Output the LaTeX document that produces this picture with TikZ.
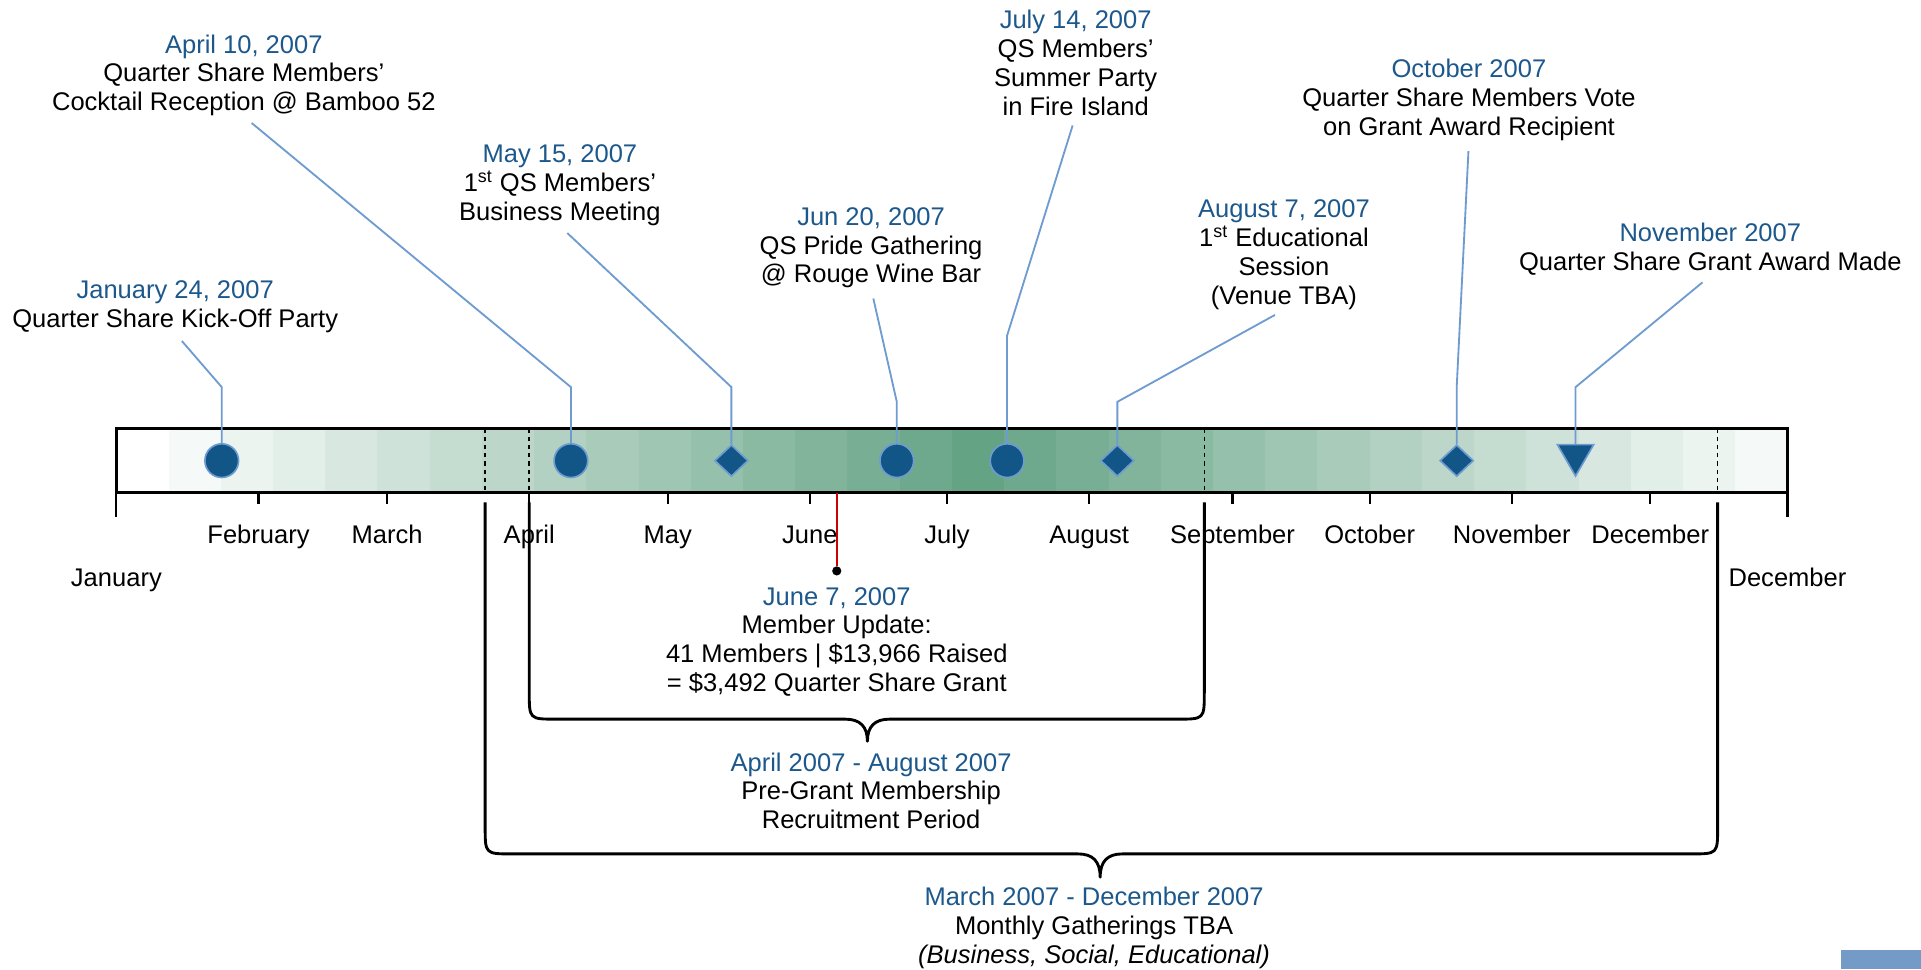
\documentclass[tikz,border=0pt]{standalone}
\usepackage{fontspec}
\setmainfont{Liberation Sans}
\usetikzlibrary{shapes.geometric}
\definecolor{qsblue}{RGB}{28,88,140}
\definecolor{dotblue}{RGB}{18,86,135}
\definecolor{rimblue}{RGB}{110,155,208}
\definecolor{barGreen}{RGB}{101,163,133}
\definecolor{boxblue}{RGB}{116,155,200}
\begin{document}
\begin{tikzpicture}[x=0.6pt,y=-0.6pt]

\useasboundingbox (0,0) rectangle (1568,791);
% width of one shade band
\def\bw{42.625}
% style definitions
\tikzstyle{evcircle} = [circle, draw=rimblue, fill=dotblue, line width=0.8pt,
	minimum size=16.5pt, inner sep=0pt];
\tikzstyle{evdiamond} = [diamond, draw=rimblue, fill=dotblue, line width=0.8pt,
	minimum width=16.5pt, minimum height=15.5pt, inner sep=0pt];
\tikzstyle{evtriangle} = [regular polygon, regular polygon sides=3,
	shape border rotate=180, draw=rimblue, fill=dotblue, line width=0.8pt,
	minimum size=20.5pt, inner sep=0pt];
\tikzstyle{note} = [align=center, inner sep=0pt, anchor=north,
	font=\fontsize{12.5pt}{14.1pt}\selectfont];
\tikzstyle{month} = [inner sep=0pt, anchor=base,
	font=\fontsize{12.5pt}{14.1pt}\selectfont];
\tikzstyle{callout} = [draw=rimblue, line width=0.9pt, shorten >=5pt];
\tikzstyle{tick} = [line width=1pt];
\tikzstyle{bracket} = [line width=1.4pt, line join=round];

\fill[barGreen!0!white] (95+0*\bw,350) rectangle (95+1*\bw,402);
\fill[barGreen!6.25!white] (95+1*\bw,350) rectangle (95+2*\bw,402);
\fill[barGreen!12.5!white] (95+2*\bw,350) rectangle (95+3*\bw,402);
\fill[barGreen!18.75!white] (95+3*\bw,350) rectangle (95+4*\bw,402);
\fill[barGreen!25!white] (95+4*\bw,350) rectangle (95+5*\bw,402);
\fill[barGreen!31.25!white] (95+5*\bw,350) rectangle (95+6*\bw,402);
\fill[barGreen!37.5!white] (95+6*\bw,350) rectangle (95+7*\bw,402);
\fill[barGreen!43.75!white] (95+7*\bw,350) rectangle (95+8*\bw,402);
\fill[barGreen!50!white] (95+8*\bw,350) rectangle (95+9*\bw,402);
\fill[barGreen!56.25!white] (95+9*\bw,350) rectangle (95+10*\bw,402);
\fill[barGreen!62.5!white] (95+10*\bw,350) rectangle (95+11*\bw,402);
\fill[barGreen!68.75!white] (95+11*\bw,350) rectangle (95+12*\bw,402);
\fill[barGreen!75!white] (95+12*\bw,350) rectangle (95+13*\bw,402);
\fill[barGreen!81.25!white] (95+13*\bw,350) rectangle (95+14*\bw,402);
\fill[barGreen!87.5!white] (95+14*\bw,350) rectangle (95+15*\bw,402);
\fill[barGreen!93.75!white] (95+15*\bw,350) rectangle (95+16*\bw,402);
\fill[barGreen] (95+16*\bw,350) rectangle (95+17*\bw,402);
\fill[barGreen!93.75!white] (95+17*\bw,350) rectangle (95+18*\bw,402);
\fill[barGreen!87.5!white] (95+18*\bw,350) rectangle (95+19*\bw,402);
\fill[barGreen!81.25!white] (95+19*\bw,350) rectangle (95+20*\bw,402);
\fill[barGreen!75!white] (95+20*\bw,350) rectangle (95+21*\bw,402);
\fill[barGreen!68.75!white] (95+21*\bw,350) rectangle (95+22*\bw,402);
\fill[barGreen!62.5!white] (95+22*\bw,350) rectangle (95+23*\bw,402);
\fill[barGreen!56.25!white] (95+23*\bw,350) rectangle (95+24*\bw,402);
\fill[barGreen!50!white] (95+24*\bw,350) rectangle (95+25*\bw,402);
\fill[barGreen!43.75!white] (95+25*\bw,350) rectangle (95+26*\bw,402);
\fill[barGreen!37.5!white] (95+26*\bw,350) rectangle (95+27*\bw,402);
\fill[barGreen!31.25!white] (95+27*\bw,350) rectangle (95+28*\bw,402);
\fill[barGreen!25!white] (95+28*\bw,350) rectangle (95+29*\bw,402);
\fill[barGreen!18.75!white] (95+29*\bw,350) rectangle (95+30*\bw,402);
\fill[barGreen!12.5!white] (95+30*\bw,350) rectangle (95+31*\bw,402);
\fill[barGreen!6.25!white] (95+31*\bw,350) rectangle (95+32*\bw,402);

\draw[dash pattern=on 2pt off 2pt, line width=0.8pt] (396,350) -- (396,402);
\draw[dash pattern=on 2pt off 2pt, line width=0.8pt] (432,350) -- (432,402);
\draw[dash pattern=on 2pt off 2pt, line width=0.8pt] (983,350) -- (983,402);
\draw[dash pattern=on 2pt off 2pt, line width=0.8pt] (1402,350) -- (1402,402);
\draw[line width=1.3pt] (95,350) rectangle (1459,402);

\draw[tick] (95,402) -- (95,422);
\draw[tick] (211,402) -- (211,411);
\draw[tick] (316,402) -- (316,411);
\draw[tick] (432,402) -- (432,411);
\draw[tick] (545,402) -- (545,411);
\draw[tick] (661,402) -- (661,411);
\draw[tick] (773,402) -- (773,411);
\draw[tick] (889,402) -- (889,411);
\draw[tick] (1006,402) -- (1006,411);
\draw[tick] (1118,402) -- (1118,411);
\draw[tick] (1234,402) -- (1234,411);
\draw[tick] (1347,402) -- (1347,411);
\draw[tick] (1459,402) -- (1459,422);

\node[month] (jan) at (95,479) {January};
\node[month] (feb) at (211,444) {February};
\node[month] (mar) at (316,444) {March};
\node[month] (apr) at (432,444) {April};
\node[month] (may) at (545,444) {May};
\node[month] (jun) at (661,444) {June};
\node[month] (jul) at (773,444) {July};
\node[month] (aug) at (889,444) {August};
\node[month] (sep) at (1006,444) {September};
\node[month] (oct) at (1118,444) {October};
\node[month] (nov) at (1234,444) {November};
\node[month] (dec) at (1347,444) {December};
\node[month] (decend) at (1459,479) {December};

% the two period brackets
\draw[bracket] (432,410) -- (432,565) .. controls (432,587) .. (454,587) -- (690,587)
	.. controls (702,587) and (708,593) .. (708,605)
	.. controls (708,593) and (714,587) .. (726,587)
	-- (961,587) .. controls (983,587) .. (983,565) -- (983,410);
\draw[bracket] (396,410) -- (396,675) .. controls (396,697) .. (418,697) -- (880,697)
	.. controls (892,697) and (898,703) .. (898,716)
	.. controls (898,703) and (904,697) .. (916,697)
	-- (1380,697) .. controls (1402,697) .. (1402,675) -- (1402,410);

\node[note] (l1) at (143,229) {{\color{qsblue}January 24, 2007}\\Quarter Share Kick-Off Party};
\node[note] (l2) at (199,28) {{\color{qsblue}April 10, 2007}\\Quarter Share Members’\\Cocktail Reception @ Bamboo 52};
\node[note] (l3) at (457,118) {{\color{qsblue}May 15, 2007}\\1\textsuperscript{st} QS Members’\\Business Meeting};
\node[note] (l4) at (711,169) {{\color{qsblue}Jun 20, 2007}\\QS Pride Gathering\\@ Rouge Wine Bar};
\node[note] (l5) at (878,8) {{\color{qsblue}July 14, 2007}\\QS Members’\\Summer Party\\in Fire Island};
\node[note] (l6) at (1048,163) {{\color{qsblue}August 7, 2007}\\1\textsuperscript{st} Educational\\Session\\(Venue TBA)};
\node[note] (l7) at (1199,48) {{\color{qsblue}October 2007}\\Quarter Share Members Vote\\on Grant Award Recipient};
\node[note] (l8) at (1396,182) {{\color{qsblue}November 2007}\\Quarter Share Grant Award Made};
\node[note] (l9) at (683,479) {{\color{qsblue}June 7, 2007}\\Member Update:\\41 Members | \$13,966 Raised\\= \$3,492 Quarter Share Grant};
\node[note] (l10) at (711,614) {{\color{qsblue}April 2007 - August 2007}\\Pre-Grant Membership\\Recruitment Period};
\node[note] (l11) at (893,724) {{\color{qsblue}March 2007 - December 2007}\\Monthly Gatherings TBA\\{\itshape (Business, Social, Educational)}};

\coordinate (k1) at (181,316);
\coordinate (k2) at (466,316);
\coordinate (k3) at (597,316);
\coordinate (k4) at (732,328);
\coordinate (k5) at (822,274);
\coordinate (k6) at (912,328);
\coordinate (k7) at (1189,316);
\coordinate (k8) at (1286,316);

\node[evcircle] (m1) at (181,376) {};
\node[evcircle] (m2) at (466,376) {};
\node[evdiamond] (m3) at (597,376) {};
\node[evcircle] (m4) at (732,376) {};
\node[evcircle] (m5) at (822,376) {};
\node[evdiamond] (m6) at (912,376) {};
\node[evdiamond] (m7) at (1189,376) {};
\node[evtriangle] (m8) at (1286,371.5) {};

\draw[callout] (m1.north) -- (k1) -- (l1.south);
\draw[callout] (m2.north) -- (k2) -- (l2.south);
\draw[callout] (m3.north) -- (k3) -- (l3.south);
\draw[callout] (m4.north) -- (k4) -- (l4.south);
\draw[callout] (m5.north) -- (k5) -- (l5.south);
\draw[callout] (m6.north) -- (k6) -- (l6.south);
\draw[callout] (m7.north) -- (k7) -- (l7.south);
\draw[callout] (m8.north) -- (k8) -- (l8.south);

% update marker under the bar
\coordinate (redtop) at (683,402);
\node[circle, fill=black, minimum size=4.5pt, inner sep=0pt] (dot) at (683,466) {};
\draw[red!80!black, line width=0.8pt] (redtop) -- (dot);

\fill[boxblue] (1503,775.5) rectangle (1568,791);

\end{tikzpicture}
\end{document}
